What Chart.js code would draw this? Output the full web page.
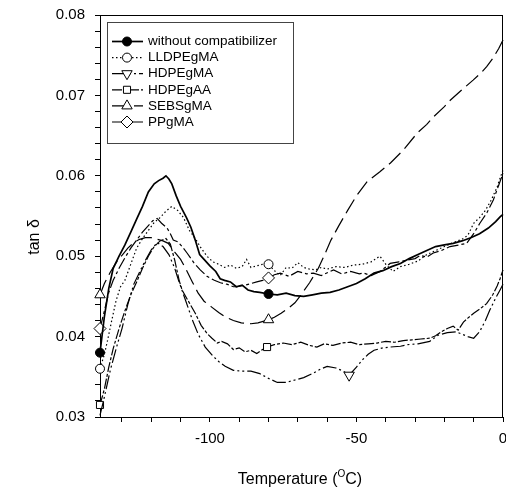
<!DOCTYPE html>
<html>
<head>
<meta charset="utf-8">
<script src="https://cdn.jsdelivr.net/npm/chart.js@4.4.0/dist/chart.umd.min.js"></script>
<style>
  html, body { margin: 0; padding: 0; background: #fff; }
</style>
</head>
<body>
<canvas id="grafico" width="506" height="488"></canvas>
<script>
// temperaturas (°C) y tan δ de cada muestra
const tempSin = [-137.5, -136, -134.5, -133, -131, -129, -127, -125, -123, -121, -119, -117.5, -116, -115, -114, -113, -111.5, -110, -108, -106.5, -105, -103.5, -102, -100, -98, -96.5, -95, -93, -91, -89, -87, -85, -83, -80, -77, -74, -71, -68, -65, -62, -59, -56, -53, -50, -47, -44, -41, -38, -35, -32, -29, -26, -23, -20, -17, -14, -11, -8, -5, -2.5, -1, 0];
const tanSin = [0.0380, 0.0425, 0.0460, 0.0485, 0.0500, 0.0514, 0.0530, 0.0546, 0.0562, 0.0580, 0.0590, 0.0594, 0.0597, 0.0600, 0.0596, 0.0590, 0.0575, 0.0562, 0.0548, 0.0536, 0.0520, 0.0502, 0.0496, 0.0488, 0.0481, 0.0472, 0.0470, 0.0468, 0.0462, 0.0464, 0.0458, 0.0456, 0.0455, 0.0453, 0.0452, 0.0454, 0.0451, 0.0450, 0.0452, 0.0454, 0.0455, 0.0458, 0.0462, 0.0466, 0.0472, 0.0479, 0.0482, 0.0487, 0.0491, 0.0497, 0.0502, 0.0507, 0.0512, 0.0514, 0.0516, 0.0519, 0.0523, 0.0528, 0.0535, 0.0543, 0.0549, 0.0552];

const tempLLDPE = [-137.5, -136, -135, -133.5, -132, -130.5, -129, -127, -125, -123, -121, -119, -117, -115, -113, -111, -109, -107, -105, -103, -101, -99, -97, -95, -93, -91, -89, -87.5, -86, -84, -82, -80, -78, -76, -74, -72, -70, -68, -66, -64, -62, -60, -57, -54, -51, -48, -45, -42, -40, -37.5, -35, -32, -29, -26, -23, -20, -17, -14, -12, -10, -8, -6, -4, -2, -1, 0];
const tanLLDPE = [0.0360, 0.0378, 0.0394, 0.0420, 0.0445, 0.0462, 0.0470, 0.0490, 0.0510, 0.0522, 0.0532, 0.0542, 0.0548, 0.0556, 0.0562, 0.0557, 0.0548, 0.0532, 0.0522, 0.0510, 0.0500, 0.0493, 0.0490, 0.0486, 0.0489, 0.0485, 0.0487, 0.0496, 0.0486, 0.0488, 0.0490, 0.0490, 0.0482, 0.0476, 0.0486, 0.0485, 0.0492, 0.0486, 0.0484, 0.0483, 0.0486, 0.0484, 0.0487, 0.0486, 0.0489, 0.0490, 0.0493, 0.0500, 0.0490, 0.0481, 0.0487, 0.0490, 0.0494, 0.0502, 0.0507, 0.0512, 0.0517, 0.0521, 0.0526, 0.0541, 0.0548, 0.0557, 0.0570, 0.0586, 0.0597, 0.0607];

const tempHDPEgMA = [-137.5, -136, -134, -132, -130, -128, -126, -124.3, -122, -120, -118, -116, -114, -112, -110.7, -108.5, -106, -104, -101.6, -99, -97, -94.8, -92, -89, -86, -83, -80, -77, -74, -71, -68, -65, -62, -60, -57, -54.5, -52.5, -50, -48, -46, -44, -41, -38.5, -35, -32.5, -29, -25, -22, -19, -16, -14, -12, -10, -8, -6, -4.5, -2.5, -1, 0];
const tanHDPEgMA = [0.0302, 0.0325, 0.0358, 0.0385, 0.0410, 0.0440, 0.0465, 0.0478, 0.0495, 0.0508, 0.0517, 0.0512, 0.0502, 0.0485, 0.0470, 0.0447, 0.0421, 0.0403, 0.0387, 0.0376, 0.0369, 0.0363, 0.0358, 0.0357, 0.0357, 0.0354, 0.0348, 0.0343, 0.0343, 0.0346, 0.0349, 0.0354, 0.0360, 0.0363, 0.0361, 0.0357, 0.0352, 0.0362, 0.0371, 0.0378, 0.0383, 0.0386, 0.0387, 0.0388, 0.0390, 0.0391, 0.0394, 0.0402, 0.0405, 0.0406, 0.0403, 0.0400, 0.0398, 0.0406, 0.0420, 0.0433, 0.0448, 0.0458, 0.0465];

const tempHDPEgAA = [-137.5, -136, -134.5, -133, -131, -129, -127, -125, -123, -121, -119, -117, -115, -113.5, -112, -110.5, -109.5, -107.5, -105, -103, -101, -99.3, -97.5, -96, -94, -92, -90, -88, -86, -84, -82, -80.5, -78, -75, -72, -69, -66, -63.5, -61, -58, -55, -52, -49, -46, -43, -40, -37, -34, -31, -28, -25, -23, -21, -19, -17, -15.3, -13.5, -12, -10, -8, -5.6, -3.5, -2, -1, 0];
const tanHDPEgAA = [0.0315, 0.0335, 0.0362, 0.0385, 0.0410, 0.0432, 0.0452, 0.0468, 0.0485, 0.0500, 0.0512, 0.0519, 0.0522, 0.0515, 0.0495, 0.0470, 0.0458, 0.0445, 0.0429, 0.0414, 0.0404, 0.0398, 0.0392, 0.0394, 0.0391, 0.0384, 0.0386, 0.0381, 0.0383, 0.0379, 0.0384, 0.0387, 0.0390, 0.0392, 0.0390, 0.0393, 0.0389, 0.0387, 0.0391, 0.0389, 0.0392, 0.0393, 0.0390, 0.0391, 0.0392, 0.0394, 0.0393, 0.0395, 0.0396, 0.0397, 0.0398, 0.0401, 0.0406, 0.0410, 0.0413, 0.0408, 0.0418, 0.0423, 0.0429, 0.0434, 0.0441, 0.0452, 0.0463, 0.0472, 0.0483];

const tempSEBS = [-137.5, -136, -134, -132, -130, -128, -126, -124, -122, -120, -118, -116, -114.2, -112, -110, -108.6, -106, -104, -102, -99.5, -97, -95, -92, -89.3, -86, -83.6, -80, -78, -75.7, -73, -71, -68.9, -66, -63, -60.5, -58.7, -56, -53, -50, -46.3, -42, -38.4, -34, -29.3, -26, -23.8, -20, -18, -14, -10.2, -7.5, -5.5, -3.5, -1.5, 0];
const tanSEBS = [0.0452, 0.0466, 0.0480, 0.0492, 0.0501, 0.0510, 0.0517, 0.0521, 0.0523, 0.0523, 0.0521, 0.0519, 0.0516, 0.0505, 0.0496, 0.0487, 0.0468, 0.0454, 0.0444, 0.0437, 0.0430, 0.0425, 0.0420, 0.0417, 0.0416, 0.0417, 0.0421, 0.0424, 0.0429, 0.0436, 0.0442, 0.0452, 0.0467, 0.0485, 0.0505, 0.0520, 0.0538, 0.0557, 0.0575, 0.0593, 0.0605, 0.0616, 0.0632, 0.0653, 0.0664, 0.0673, 0.0686, 0.0694, 0.0707, 0.0719, 0.0728, 0.0736, 0.0746, 0.0758, 0.0769];

const tempPP = [-137.5, -136, -134.5, -133, -131, -129, -127, -125, -123, -121, -119.5, -118, -116.5, -114.6, -113.5, -112.5, -111, -109.5, -107.8, -105.5, -103.3, -101, -98.5, -96.4, -94, -92, -90.8, -88, -86, -84, -82, -80, -78, -76, -73, -70, -67, -64.7, -62, -59, -57.8, -55, -52, -49, -47.6, -45, -41.9, -38.5, -35.5, -32.8, -30, -28.3, -26, -23.8, -21, -18.1, -15, -12.4, -10, -7.9, -5.5, -3.3, -1.5, 0];
const tanPP = [0.0410, 0.0432, 0.0455, 0.0470, 0.0485, 0.0498, 0.0510, 0.0520, 0.0530, 0.0538, 0.0544, 0.0547, 0.0541, 0.0535, 0.0528, 0.0520, 0.0518, 0.0512, 0.0504, 0.0492, 0.0483, 0.0475, 0.0470, 0.0467, 0.0465, 0.0462, 0.0462, 0.0464, 0.0466, 0.0468, 0.0470, 0.0473, 0.0477, 0.0479, 0.0475, 0.0481, 0.0478, 0.0479, 0.0476, 0.0481, 0.0483, 0.0478, 0.0481, 0.0478, 0.0479, 0.0476, 0.0481, 0.0491, 0.0493, 0.0495, 0.0497, 0.0501, 0.0499, 0.0504, 0.0507, 0.0512, 0.0514, 0.0516, 0.0528, 0.0541, 0.0554, 0.0570, 0.0588, 0.0603];

// temperaturas donde va el símbolo de cada curva
const marcasSin = [-137.5, -80];
const marcasLLDPE = [-137.5, -80];
const marcasHDPEgMA = [-52.5];
const marcasHDPEgAA = [-137.5, -80.5];
const marcasSEBS = [-137.5, -80];
const marcasPP = [-137.5, -80];

const nombres = ['without compatibilizer', 'LLDPEgMA', 'HDPEgMA', 'HDPEgAA', 'SEBSgMA', 'PPgMA'];

const ticksX = [-130, -120, -110, -100, -90, -80, -70, -60, -50, -40, -30, -20, -10, 0];
const etiquetasX = [-100, -50, 0];
const ticksY = [];
for (let i = 0; i <= 25; i++) ticksY.push(+(0.03 + i * 0.002).toFixed(3));

const fuente = 'Liberation Sans, Arial, sans-serif';

function puntos(xs, ys) {
    return xs.map((x, i) => ({ x: x, y: ys[i] }));
}

function serie(nombre, xs, ys, marcas, estilo) {
    return Object.assign({
        label: nombre,
        data: puntos(xs, ys),
        borderColor: '#000',
        borderWidth: 1.2,
        tension: 0,
        clip: 12,
        radioMarca: estilo.radio,
        pointBorderColor: '#000',
        pointBorderWidth: 1,
        pointBackgroundColor: '#fff',
        pointRadius: ctx => (ctx.raw && marcas.includes(ctx.raw.x)) ? estilo.radio : 0,
        pointHoverRadius: 0
    }, estilo.extra);
}

const series = [
    serie(nombres[0], tempSin, tanSin, marcasSin, { radio: 4.5, extra: { borderWidth: 1.7, pointStyle: 'circle', pointBackgroundColor: '#000' } }),
    serie(nombres[1], tempLLDPE, tanLLDPE, marcasLLDPE, { radio: 4.5, extra: { borderDash: [1.5, 2.5], pointStyle: 'circle' } }),
    serie(nombres[2], tempHDPEgMA, tanHDPEgMA, marcasHDPEgMA, { radio: 6, extra: { borderDash: [14, 3, 2, 3, 2, 3], pointStyle: 'triangle', pointRotation: 180 } }),
    serie(nombres[3], tempHDPEgAA, tanHDPEgAA, marcasHDPEgAA, { radio: 5, extra: { borderDash: [10, 2, 3, 2], pointStyle: 'rect' } }),
    serie(nombres[4], tempSEBS, tanSEBS, marcasSEBS, { radio: 6, extra: { borderDash: [16, 6], pointStyle: 'triangle' } }),
    serie(nombres[5], tempPP, tanPP, marcasPP, { radio: 6, extra: { borderDash: [12, 3, 3, 3], pointStyle: 'rectRot' } })
];

// marco superior/derecho, leyenda y títulos de ejes
const extras = {
    id: 'extras',
    afterDraw(chart) {
        const ctx = chart.ctx;
        const a = chart.chartArea;
        ctx.save();
        ctx.strokeStyle = '#000';
        ctx.lineWidth = 1;
        ctx.beginPath();
        ctx.moveTo(a.left, Math.round(a.top) + 0.5);
        ctx.lineTo(a.right, Math.round(a.top) + 0.5);
        ctx.moveTo(Math.round(a.right) - 0.5, a.top);
        ctx.lineTo(Math.round(a.right) - 0.5, a.bottom);
        ctx.stroke();

        // leyenda
        const bx = 107.5, by = 22.5, bw = 186, bh = 121;
        ctx.fillStyle = '#fff';
        ctx.fillRect(bx, by, bw, bh);
        ctx.strokeStyle = '#444';
        ctx.strokeRect(bx, by, bw, bh);
        ctx.font = '13.5px ' + fuente;
        ctx.textBaseline = 'middle';
        series.forEach((ds, i) => {
            const y = 41.5 + i * 16.1;
            ctx.save();
            ctx.strokeStyle = '#000';
            ctx.lineWidth = ds.borderWidth;
            ctx.setLineDash(ds.borderDash || []);
            ctx.beginPath();
            ctx.moveTo(112, y);
            ctx.lineTo(143, y);
            ctx.stroke();
            ctx.restore();
            ctx.save();
            ctx.fillStyle = ds.pointBackgroundColor;
            ctx.strokeStyle = '#000';
            ctx.lineWidth = 1;
            Chart.helpers.drawPoint(ctx, { pointStyle: ds.pointStyle, rotation: ds.pointRotation || 0, radius: ds.radioMarca, borderWidth: 1 }, 127, y);
            ctx.restore();
            ctx.fillStyle = '#000';
            ctx.fillText(ds.label, 148, y);
        });

        // títulos
        ctx.fillStyle = '#000';
        ctx.font = '16px ' + fuente;
        ctx.textBaseline = 'alphabetic';
        const t1 = 'Temperature (', sup = 'O', t2 = 'C)';
        const w1 = ctx.measureText(t1).width;
        const w3 = ctx.measureText(t2).width;
        ctx.font = '10px ' + fuente;
        const w2 = ctx.measureText(sup).width;
        let x = 300 - (w1 + w2 + w3) / 2;
        ctx.font = '16px ' + fuente;
        ctx.textAlign = 'left';
        ctx.fillText(t1, x, 484);
        x += w1;
        ctx.font = '10px ' + fuente;
        ctx.fillText(sup, x, 477);
        x += w2;
        ctx.font = '16px ' + fuente;
        ctx.fillText(t2, x, 484);

        ctx.translate(39, 237);
        ctx.rotate(-Math.PI / 2);
        ctx.textAlign = 'center';
        ctx.fillText('tan \u03b4', 0, 0);
        ctx.restore();
    }
};

new Chart(document.getElementById('grafico'), {
    type: 'line',
    data: { datasets: series },
    plugins: [extras],
    options: {
        responsive: false,
        animation: false,
        layout: { autoPadding: false, padding: { top: 15, right: 3, left: 0, bottom: 0 } },
        plugins: { legend: { display: false }, tooltip: { enabled: false } },
        scales: {
            x: {
                type: 'linear',
                min: -137.5,
                max: 0,
                afterBuildTicks: s => { s.ticks = ticksX.map(v => ({ value: v })); },
                afterFit: s => { s.height = 71; s.paddingLeft = 0; s.paddingRight = 0; },
                grid: { drawOnChartArea: false, tickLength: 5, tickColor: '#000' },
                border: { color: '#000', width: 1 },
                ticks: {
                    color: '#000',
                    font: { family: fuente, size: 15 },
                    padding: 8,
                    maxRotation: 0,
                    autoSkip: false,
                    callback: v => etiquetasX.includes(v) ? String(v) : ''
                }
            },
            y: {
                min: 0.03,
                max: 0.08,
                afterBuildTicks: s => { s.ticks = ticksY.map(v => ({ value: v })); },
                afterFit: s => { s.width = 100; s.paddingTop = 0; s.paddingBottom = 0; },
                grid: { drawOnChartArea: false, tickLength: 5, tickColor: '#000' },
                border: { color: '#000', width: 1 },
                ticks: {
                    color: '#000',
                    font: { family: fuente, size: 15 },
                    padding: 10,
                    autoSkip: false,
                    callback: v => Math.abs(v * 100 - Math.round(v * 100)) < 1e-6 ? v.toFixed(2) : ''
                }
            }
        }
    }
});
</script>
</body>
</html>
